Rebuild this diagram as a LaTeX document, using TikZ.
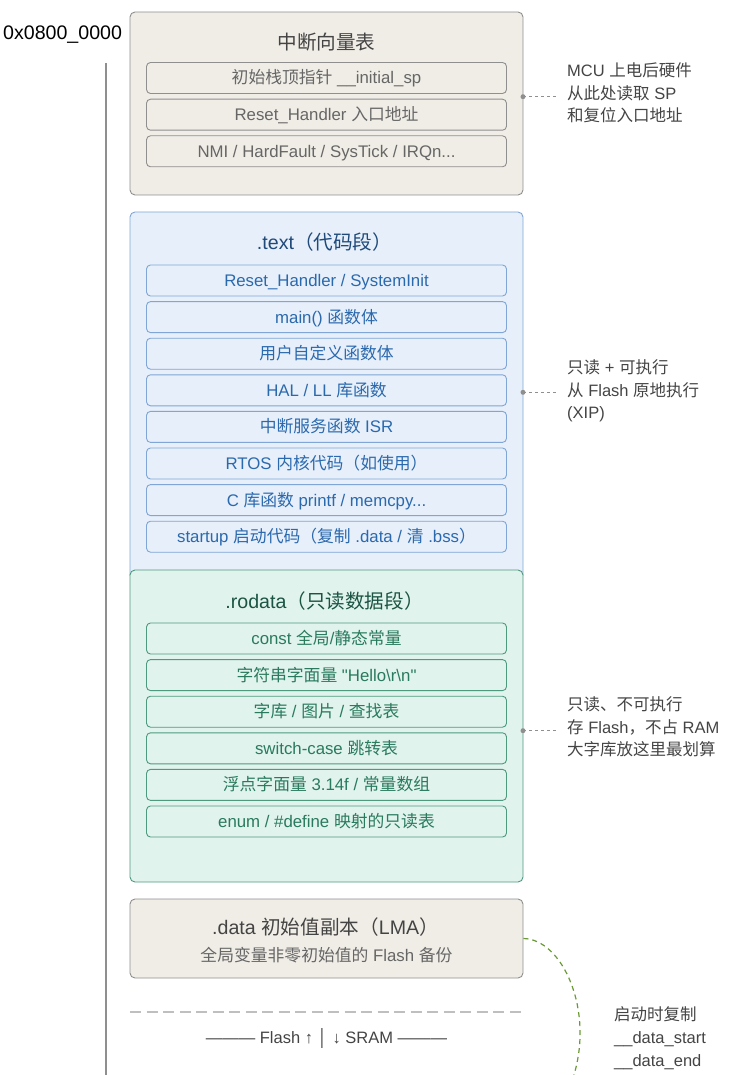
\documentclass[tikz,border=0pt]{standalone}
\usepackage{fontspec}
\setmainfont{Liberation Sans}[Ligatures=TeXOff]
\newfontfamily\zhfont{Noto Sans CJK SC}
\newcommand{\zh}[1]{{\zhfont #1}}
\usepackage{xcolor}
\usetikzlibrary{positioning}
\definecolor{beigefill}{HTML}{F0EDE6}
\definecolor{grayline}{HTML}{8F8F8F}
\definecolor{graytext}{HTML}{666666}
\definecolor{graytitle}{HTML}{444444}
\definecolor{bluefill}{HTML}{E6EFFA}
\definecolor{blueline}{HTML}{7FA6D6}
\definecolor{bluetext}{HTML}{2B69AD}
\definecolor{bluetitle}{HTML}{1F4A7A}
\definecolor{greenfill}{HTML}{E0F3EC}
\definecolor{greenline}{HTML}{4E9A7E}
\definecolor{greentext}{HTML}{2A7A5E}
\definecolor{greentitle}{HTML}{1C5444}
\definecolor{copygreen}{HTML}{6A9A35}
\definecolor{notetext}{HTML}{444444}
\tikzset{
  sect/.style={rectangle, rounded corners=5pt, line width=0.9pt, minimum width=393pt, inner sep=0pt},
  vecsect/.style={sect, fill=beigefill, draw=grayline},
  textsect/.style={sect, fill=bluefill, draw=blueline},
  rosect/.style={sect, fill=greenfill, draw=greenline},
  itm/.style={rectangle, rounded corners=4pt, line width=0.9pt, minimum width=360pt, minimum height=31pt, inner sep=0pt, text height=14pt, text depth=2pt, font=\fontsize{16.8}{20}\selectfont},
  vecitm/.style={itm, draw=grayline, text=graytext},
  textitm/.style={itm, draw=blueline, text=bluetext},
  roitm/.style={itm, draw=greenline, text=greentext},
  ttl/.style={anchor=base, inner sep=0pt, font=\fontsize{19.6}{23}\selectfont},
  note/.style={anchor=west, inner xsep=10pt, inner ysep=0pt, align=left, text=notetext, font=\fontsize{16.5}{22.7}\selectfont},
  conn/.style={draw=grayline, dashed, line width=0.9pt},
  dotmark/.style={circle, fill=grayline, inner sep=0pt, minimum size=5pt},
  axisline/.style={draw=grayline, line width=1.1pt},
  sepline/.style={draw=black!25, line width=1.2pt, dash pattern=on 11pt off 5.5pt},
  copyline/.style={draw=copygreen, line width=1.2pt, dash pattern=on 5pt off 4pt}
}
\begin{document}
\begin{tikzpicture}[x=1pt, y=-1pt]
  \useasboundingbox (0,0) rectangle (736,1075);

  % Address axis
  \node[anchor=base west, inner sep=0pt, font=\fontsize{19.6}{23}\selectfont] (addr) at (3,40) {0x0800\_0000};
  \coordinate (axtop) at (106,63);
  \coordinate (axbot) at (106,1075);
  \draw[axisline] (axtop) -- (axbot);

  % Vector table
  \node[vecsect, minimum height=183pt] (vec) at (326.5,103.5) {};
  \node[ttl, text=graytitle] (vecttl) at (326.5,50) {\zh{中断向量表}};
  \node[vecitm] (v1) at (326.5,78) {\zh{初始栈顶指针} \_\_initial\_sp};
  \node[vecitm] (v2) at (326.5,114.7) {Reset\_Handler \zh{入口地址}};
  \node[vecitm] (v3) at (326.5,151.3) {NMI / HardFault / SysTick / IRQn...};

  % .text
  \node[textsect, minimum height=368pt] (txt) at (326.5,396) {};
  \node[ttl, text=bluetitle] (txtttl) at (324.5,249.5) {.text\zh{（代码段）}};
  \node[textitm] (t1) at (326.5,280.5) {Reset\_Handler / SystemInit};
  \node[textitm] (t2) at (326.5,317.1) {main() \zh{函数体}};
  \node[textitm] (t3) at (326.5,353.7) {\zh{用户自定义函数体}};
  \node[textitm] (t4) at (326.5,390.3) {HAL / LL \zh{库函数}};
  \node[textitm] (t5) at (326.5,426.9) {\zh{中断服务函数} ISR};
  \node[textitm] (t6) at (326.5,463.5) {RTOS \zh{内核代码（如使用）}};
  \node[textitm] (t7) at (326.5,500.1) {C \zh{库函数} printf / memcpy...};
  \node[textitm] (t8) at (326.5,536.7) {startup \zh{启动代码（复制} .data / \zh{清} .bss\zh{）}};

  % .rodata
  \node[rosect, minimum height=312pt] (ro) at (326.5,726) {};
  \node[ttl, text=greentitle] (rottl) at (324.5,608) {.rodata\zh{（只读数据段）}};
  \node[roitm] (r1) at (326.5,638.5) {const \zh{全局}/\zh{静态常量}};
  \node[roitm] (r2) at (326.5,675.1) {\zh{字符串字面量} "Hello\textbackslash r\textbackslash n"};
  \node[roitm] (r3) at (326.5,711.7) {\zh{字库} / \zh{图片} / \zh{查找表}};
  \node[roitm] (r4) at (326.5,748.3) {switch-case \zh{跳转表}};
  \node[roitm] (r5) at (326.5,784.9) {\zh{浮点字面量} 3.14f / \zh{常量数组}};
  \node[roitm] (r6) at (326.5,821.5) {enum / \#define \zh{映射的只读表}};

  % .data load copy
  \node[vecsect, minimum height=79pt] (dat) at (326.5,938.5) {};
  \node[ttl, text=graytitle] (datttl) at (325.5,934) {.data \zh{初始值副本（}LMA\zh{）}};
  \node[ttl, text=graytext, font=\fontsize{16.8}{20}\selectfont] (datsub) at (326.5,961) {\zh{全局变量非零初始值的} Flash \zh{备份}};

  % Flash / SRAM border
  \coordinate (sepL) at (130,1012);
  \coordinate (sepR) at (523,1012);
  \draw[sepline] (sepL) -- (sepR);
  \node[ttl, text=graytitle, font=\fontsize{16.5}{20}\selectfont] (border) at (326.5,1043) {——— Flash ↑ │ ↓ SRAM ———};

  % Side notes
  \node[note] (vecnote) at (557,93) {MCU \zh{上电后硬件}\\\zh{从此处读取} SP\\\zh{和复位入口地址}};
  \node[note] (txtnote) at (557,391) {\zh{只读} + \zh{可执行}\\\zh{从} Flash \zh{原地执行}\\(XIP)};
  \node[note] (ronote) at (557,727) {\zh{只读、不可执行}\\\zh{存} Flash\zh{，不占} RAM\\\zh{大字库放这里最划算}};
  \node[note] (copynote) at (604,1038) {\zh{启动时复制}\\\_\_data\_start\\\_\_data\_end};

  % Note connectors
  \coordinate (vecpin) at (523,96.7);
  \coordinate (txtpin) at (523,392.3);
  \coordinate (ropin) at (523,730.7);
  \draw[conn] (vecpin) -- (vecpin -| vecnote.west);
  \draw[conn] (txtpin) -- (txtpin -| txtnote.west);
  \draw[conn] (ropin) -- (ropin -| ronote.west);
  \node[dotmark] at (vecpin) {};
  \node[dotmark] at (txtpin) {};
  \node[dotmark] at (ropin) {};

  % Copy to SRAM at startup
  \coordinate (copyend) at (573,1078);
  \draw[copyline] (dat.east) .. controls (562,939) and (595,1010) .. (copyend);
\end{tikzpicture}
\end{document}
